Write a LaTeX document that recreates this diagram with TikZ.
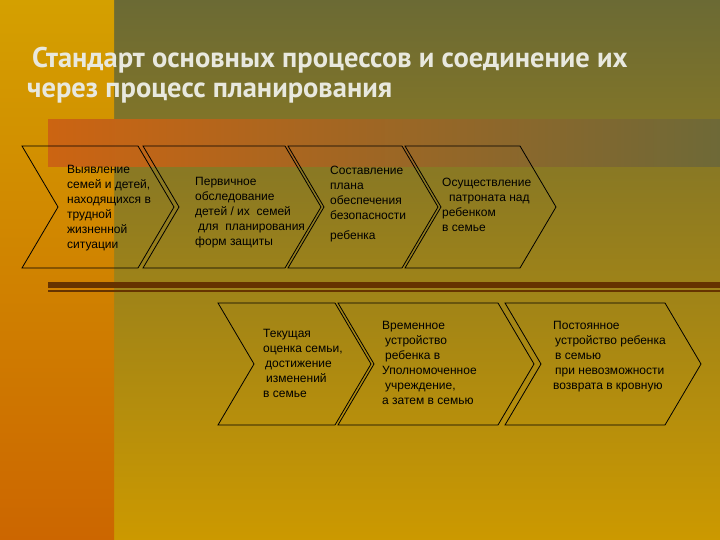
\documentclass[tikz,border=0pt]{standalone}
\usepackage{fontspec}
\setmainfont{Liberation Sans}
\newfontfamily\titelfont{PT Sans}
\definecolor{olivoben}{RGB}{107,106,52}
\definecolor{goldunten}{RGB}{204,153,0}
\definecolor{gelboben}{RGB}{212,160,0}
\definecolor{orangeunten}{RGB}{204,102,0}
\definecolor{bandlinks}{RGB}{204,100,18}
\definecolor{bandmitte}{RGB}{186,102,32}
\definecolor{bandrechts}{RGB}{110,105,55}
\definecolor{balken}{RGB}{102,51,0}
\definecolor{titelfarbe}{RGB}{232,232,222}
\begin{document}
\begin{tikzpicture}[x=1pt, y=-1pt, pfeil/.style={draw=black, line width=0.8pt, line join=miter}, beschr/.style={anchor=north west, inner sep=0pt, align=left, font=\fontsize{12}{15}\selectfont}, titel/.style={anchor=north west, inner sep=0pt, align=left, text=titelfarbe, font=\titelfont\bfseries\fontsize{28.5}{30.5}\selectfont}]
	\useasboundingbox (0,0) rectangle (720,540);
	% Hintergrund
	\shade[top color=olivoben, bottom color=goldunten] (114,0) rectangle (720,540);
	\shade[top color=gelboben, bottom color=orangeunten] (0,0) rectangle (114,540);
	\shade[left color=bandlinks, middle color=bandmitte, right color=bandrechts] (48,120) rectangle (720,167);
	\fill[balken] (48,282) rectangle (720,287.5);
	\fill[balken] (48,290) rectangle (720,291.5);
	\node[titel] (T) at (27,46.5) {\hspace*{5pt}Стандарт основных процессов и соединение их\\через процесс планирования};
	% Pfeile
	\foreach \l/\r/\t/\b in {22/138/146/268, 143/285/146/268, 288/402/146/268, 405/520/146/268, 218/335/303/425, 338/498/303/425, 505/665/303/425}
		\draw[pfeil] (\l,\t) -- (\r,\t) -- (\r+36,{(\t+\b)/2}) -- (\r,\b) -- (\l,\b) -- (\l+36,{(\t+\b)/2}) -- cycle;
	\node[beschr] (V) at (67,165) {Выявление\\семей и детей,\\находящихся в\\трудной\\жизненной\\ситуации};
	\node[beschr] (O) at (195,177) {Первичное\\обследование\\детей / их\ \ семей\\\hspace*{3pt}для\ \ планирования\\форм защиты};
	\node[beschr] (P) at (330,166) {Составление\\плана\\обеспечения\\безопасности\\[5pt]ребенка};
	\node[beschr] (N) at (442,178) {Осуществление\\\hspace*{7pt}патроната над\\ребенком\\в семье};
	\node[beschr] (B) at (263,329) {Текущая\\оценка семьи,\\\hspace*{2pt}достижение\\\hspace*{3pt}изменений\\в семье};
	\node[beschr] (W) at (382,321) {Временное\\\hspace*{3pt}устройство\\\hspace*{3pt}ребенка в\\Уполномоченное\\\hspace*{3pt}учреждение,\\а затем в семью};
	\node[beschr] (S) at (553,321) {Постоянное\\\hspace*{2pt}устройство ребенка\\\hspace*{2pt}в семью\\\hspace*{2pt}при невозможности\\возврата в кровную};
\end{tikzpicture}
\end{document}
